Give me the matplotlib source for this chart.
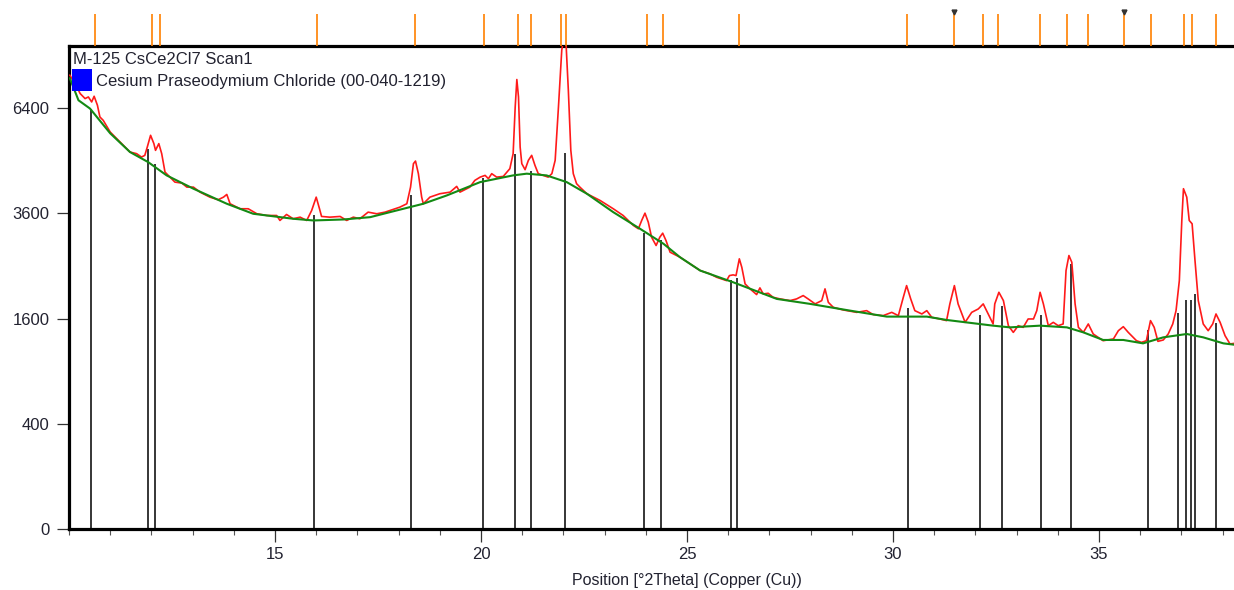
import numpy as np
import matplotlib
matplotlib.use('Agg')
import matplotlib.pyplot as plt
from matplotlib.patches import Rectangle
from matplotlib.ticker import MultipleLocator, FixedLocator

plt.rcParams['font.family'] = ['Liberation Sans', 'DejaVu Sans']

# ---------------- data ----------------
scan_2theta = [10.02, 10.17, 10.27, 10.39, 10.47, 10.55, 10.61, 10.69, 10.75, 10.83,
               11.00, 11.24, 11.48, 11.64, 11.76, 11.84, 11.90, 11.98, 12.06, 12.10,
               12.18, 12.25, 12.33, 12.45, 12.57, 12.74, 12.86, 13.02, 13.18, 13.42,
               13.62, 13.75, 13.83, 13.91, 14.15, 14.35, 14.56, 14.80, 15.04, 15.12,
               15.28, 15.44, 15.61, 15.77, 15.89, 16.00, 16.08, 16.13, 16.33, 16.58,
               16.74, 16.90, 17.06, 17.26, 17.47, 17.67, 17.79, 18.03, 18.20, 18.29,
               18.36, 18.41, 18.48, 18.56, 18.60, 18.76, 19.00, 19.25, 19.41, 19.49,
               19.73, 19.85, 19.98, 20.10, 20.18, 20.26, 20.38, 20.54, 20.70, 20.78,
               20.83, 20.87, 20.91, 20.95, 20.99, 21.07, 21.15, 21.23, 21.31, 21.39,
               21.51, 21.63, 21.72, 21.80, 21.88, 21.96, 22.00, 22.06, 22.12, 22.18,
               22.24, 22.32, 22.40, 22.57, 22.73, 22.89, 23.21, 23.45, 23.70, 23.82,
               23.90, 23.98, 24.06, 24.14, 24.25, 24.34, 24.41, 24.49, 24.59, 24.83,
               25.32, 25.56, 25.72, 25.96, 26.03, 26.12, 26.19, 26.27, 26.33, 26.41,
               26.53, 26.69, 26.77, 26.85, 26.97, 27.09, 27.26, 27.50, 27.66, 27.82,
               27.94, 28.11, 28.27, 28.35, 28.43, 28.55, 28.79, 29.12, 29.36, 29.52,
               29.76, 29.97, 30.13, 30.25, 30.33, 30.43, 30.53, 30.70, 30.82, 30.94,
               31.14, 31.30, 31.38, 31.49, 31.58, 31.75, 31.91, 32.07, 32.19, 32.31,
               32.43, 32.47, 32.57, 32.68, 32.80, 32.92, 33.04, 33.16, 33.28, 33.41,
               33.49, 33.57, 33.65, 33.77, 33.89, 34.01, 34.13, 34.20, 34.27, 34.34,
               34.42, 34.50, 34.62, 34.74, 34.86, 35.10, 35.35, 35.47, 35.59, 35.71,
               35.83, 35.91, 36.03, 36.15, 36.25, 36.34, 36.43, 36.56, 36.68, 36.79,
               36.87, 36.95, 37.01, 37.05, 37.13, 37.19, 37.26, 37.33, 37.41, 37.53,
               37.65, 37.76, 37.84, 37.94, 38.06, 38.18, 38.28, 38.40]
scan_counts = [7445, 7120, 6856, 6699, 6749, 6594, 6771, 6492, 6138, 6039,
               5698, 5414, 5138, 5094, 5002, 5048, 5275, 5604, 5370, 5184,
               5370, 5094, 4606, 4477, 4351, 4326, 4226, 4226, 4103, 3982,
               3920, 3982, 4047, 3825, 3708, 3708, 3593, 3554, 3554, 3442,
               3577, 3480, 3516, 3442, 3669, 3982, 3708, 3532, 3516, 3532,
               3442, 3516, 3480, 3630, 3593, 3630, 3669, 3745, 3825, 4226,
               4826, 4895, 4565, 3982, 3825, 3982, 4064, 4103, 4244, 4103,
               4226, 4394, 4477, 4521, 4437, 4565, 4477, 4495, 4694, 5094,
               6440, 7305, 6749, 5275, 4826, 4668, 4914, 5048, 4781, 4565,
               4521, 4477, 4565, 4914, 6440, 8290, 8640, 8640, 6960, 5184,
               4565, 4311, 4226, 4064, 3982, 3903, 3708, 3554, 3331, 3259,
               3442, 3607, 3404, 3079, 2906, 3079, 3164, 3009, 2770, 2671,
               2415, 2353, 2291, 2231, 2322, 2335, 2322, 2639, 2477, 2172,
               2085, 1987, 2102, 1998, 2009, 1941, 1914, 1886, 1914, 1970,
               1914, 1832, 1886, 2085, 1858, 1777, 1735, 1697, 1724, 1662,
               1646, 1697, 1646, 1941, 2142, 1914, 1724, 1672, 1724, 1620,
               1595, 1570, 1832, 2142, 1832, 1544, 1697, 1751, 1832, 1672,
               1520, 1832, 2026, 1886, 1495, 1398, 1495, 1470, 1595, 1595,
               1724, 2026, 1832, 1495, 1544, 1495, 1520, 2415, 2704, 2573,
               1832, 1470, 1398, 1520, 1375, 1282, 1306, 1422, 1480, 1398,
               1328, 1282, 1259, 1282, 1570, 1470, 1273, 1292, 1375, 1520,
               1724, 2231, 3442, 4187, 3982, 3442, 3368, 2606, 1886, 1520,
               1422, 1520, 1672, 1544, 1351, 1238, 1246, 1240]

bg_2theta = [10.02, 10.23, 10.51, 11.00, 11.48, 11.92, 12.37, 13.02, 13.83, 14.47,
             15.44, 15.93, 16.66, 17.31, 17.79, 18.60, 19.17, 19.98, 20.78, 21.11,
             21.59, 22.08, 22.57, 23.21, 23.86, 24.43, 24.83, 25.32, 26.12, 27.18,
             27.99, 28.96, 29.85, 30.82, 31.30, 32.43, 32.84, 33.57, 34.22, 34.62,
             35.10, 35.59, 36.07, 36.56, 37.13, 37.53, 38.02, 38.28, 38.40]
bg_counts = [7347, 6646, 6391, 5661, 5138, 4868, 4521, 4187, 3825, 3593,
             3480, 3442, 3464, 3516, 3630, 3825, 4023, 4351, 4521, 4565,
             4521, 4351, 4064, 3630, 3259, 2941, 2671, 2415, 2201, 1914,
             1832, 1724, 1631, 1631, 1580, 1495, 1470, 1495, 1470, 1398,
             1292, 1292, 1246, 1328, 1375, 1328, 1246, 1228, 1225]

ref_2theta = [10.53, 11.91, 12.09, 15.95, 18.30, 20.05, 20.83, 21.22, 22.03, 23.96,
              24.38, 26.08, 26.21, 30.36, 32.10, 32.64, 33.60, 34.32, 36.19, 36.91,
              37.12, 37.23, 37.34, 37.84]
ref_counts = [6380, 5210, 4830, 3570, 4023, 4462, 5075, 4632, 5110, 3164,
              3024, 2244, 2273, 1761, 1662, 1804, 1662, 2542, 1437, 1682,
              1898, 1898, 1998, 1529]

peak_marks = [10.63, 12.01, 12.22, 16.02, 18.40, 20.08, 20.90, 21.22, 21.94, 22.06,
              24.02, 24.41, 26.27, 30.33, 31.47, 32.18, 32.55, 33.57, 34.23, 34.74,
              35.61, 36.25, 37.06, 37.26, 37.84]
flag_marks = [31.47, 35.61]

x_major = [15, 20, 25, 30, 35]
y_ticks = [0, 400, 1600, 3600, 6400]
y_labels = ['0', '400', '1600', '3600', '6400']

scan_name = 'M-125 CsCe2Cl7 Scan1'
ref_name = 'Cesium Praseodymium Chloride (00-040-1219)'
x_title = 'Position [°2Theta] (Copper (Cu))'

# ---------------- figure ----------------
W, H = 1234, 590
fig = plt.figure(figsize=(W / 100, H / 100), dpi=100)

left_px, right_px = 69, 1305
top_px, bot_px = 46, 529
ax = fig.add_axes([left_px / W, 1 - bot_px / H, (right_px - left_px) / W, (bot_px - top_px) / H])

fwd = lambda v: np.sqrt(np.clip(v, 0, None))
inv = lambda v: np.square(v)
ax.set_yscale('function', functions=(fwd, inv))
ax.set_xlim(10, 40)
ax.set_ylim(0, 8435)

text_col = '#222230'

ax.vlines(ref_2theta, 0, ref_counts, color='black', lw=1.1, zorder=2)
ax.plot(scan_2theta, scan_counts, color='#ff1a1a', lw=1.2, zorder=3)
ax.plot(bg_2theta, bg_counts, color='#138a13', lw=1.5, zorder=4)

for s in ['left', 'top', 'bottom']:
    ax.spines[s].set_linewidth(2.3)
    ax.spines[s].set_color('black')
ax.spines['right'].set_visible(False)

ax.yaxis.set_major_locator(FixedLocator(y_ticks))
ax.set_yticklabels(y_labels)
ax.xaxis.set_major_locator(FixedLocator(x_major))
ax.xaxis.set_minor_locator(MultipleLocator(1))
ax.yaxis.set_minor_locator(FixedLocator([]))
ax.tick_params(axis='y', direction='out', length=9, width=0.9, pad=5,
               labelsize=12, labelcolor=text_col, color='#333333')
ax.tick_params(axis='x', which='major', direction='out', length=9, width=0.9, pad=4,
               labelsize=12, labelcolor=text_col, color='#333333')
ax.tick_params(axis='x', which='minor', direction='out', length=4, width=0.8, color='#555555')

ax.set_xlabel(x_title, fontsize=11.5, color=text_col, va='center')
ax.xaxis.set_label_coords(0.5, -(581 - bot_px) / (bot_px - top_px))

# legend-like labels
fig.text(73 / W, 1 - 64 / H, scan_name, fontsize=12, color=text_col, va='baseline', ha='left')
fig.patches.append(Rectangle((71.7 / W, 1 - 90.7 / H), 20 / W, 21.4 / H,
                             transform=fig.transFigure, facecolor='#0000ff',
                             edgecolor='none', zorder=5))
fig.text(95.7 / W, 1 - 86 / H, ref_name, fontsize=12, color=text_col, va='baseline', ha='left')

# top strip with peak markers
axt = fig.add_axes([left_px / W, 1 - top_px / H, (right_px - left_px) / W, (top_px - 14) / H],
                   sharex=None)
axt.set_xlim(10, 40)
axt.set_ylim(0, 1)
axt.axis('off')
axt.vlines(peak_marks, 0, 1, color='#ff8000', lw=1.2)
axt.plot(flag_marks, [1.07] * len(flag_marks), linestyle='none', marker='v',
         color='#333333', markersize=3.5, clip_on=False)

fig.savefig('out.png', dpi=100)
